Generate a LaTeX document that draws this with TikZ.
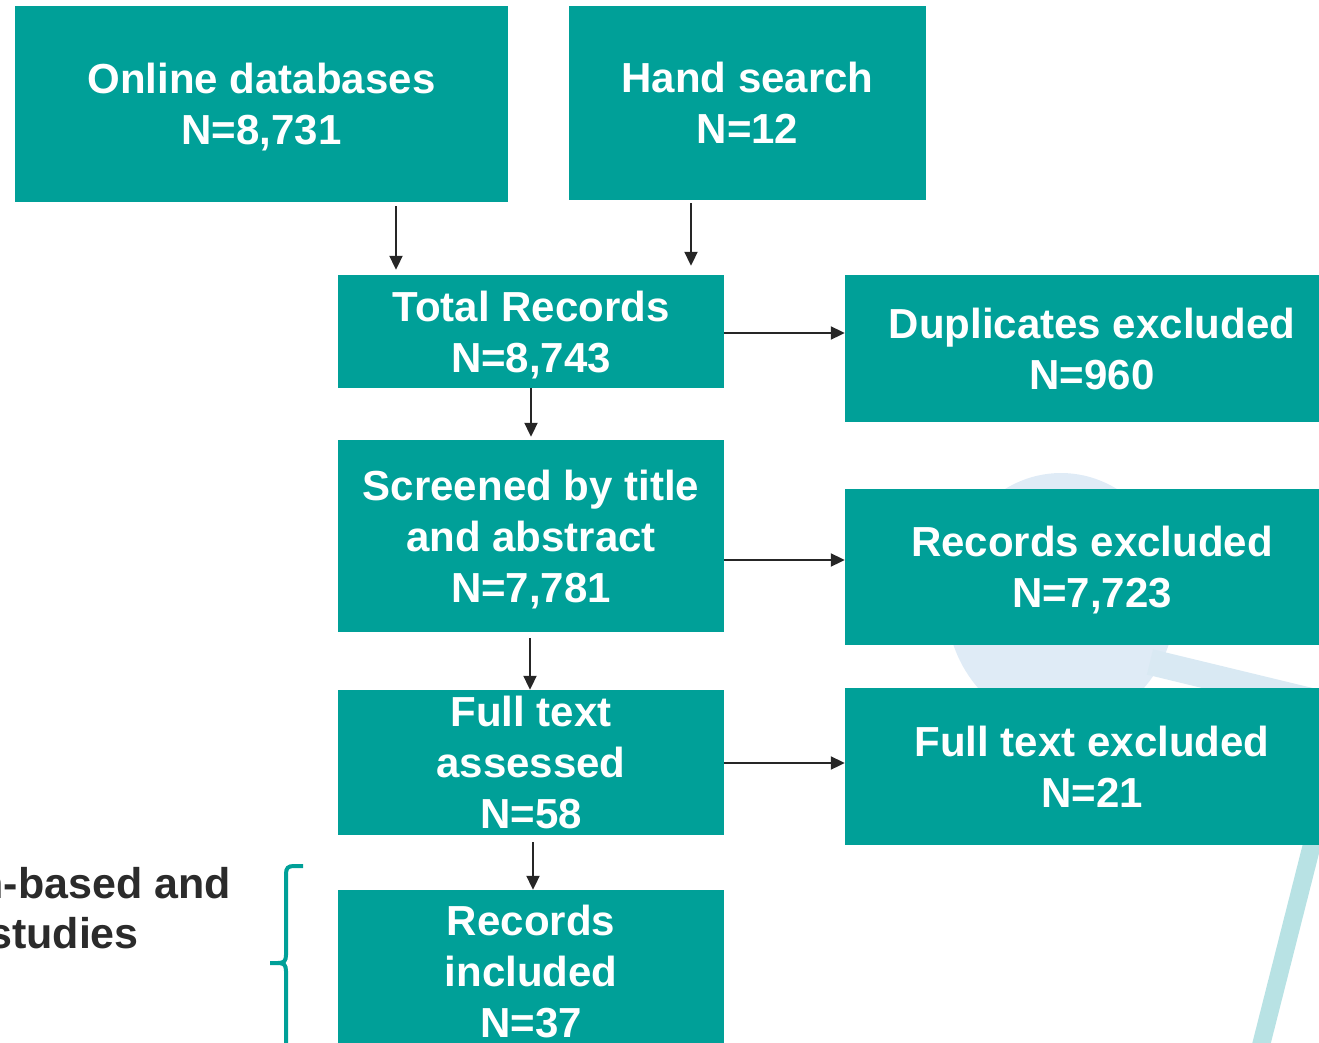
\documentclass[tikz,border=0pt]{standalone}
\usepackage{fontspec}
\setmainfont{Liberation Sans}
\usetikzlibrary{arrows.meta}
\definecolor{teal1}{HTML}{00A098}
\definecolor{arrowgray}{HTML}{262626}
\definecolor{labelgray}{HTML}{2B2B2B}
\definecolor{lens}{HTML}{DFEBF6}
\definecolor{handle}{HTML}{D9E9F3}
\definecolor{stick}{HTML}{B8E2E4}
\tikzset{
  box/.style={rectangle, fill=teal1, text=white, inner sep=0pt, align=center,
    text depth=-2pt, font=\fontsize{42}{51}\selectfont\bfseries},
  arr/.style={draw=arrowgray, line width=2pt, -{Triangle[length=14pt,width=13pt]}},
  bracepath/.style={draw=teal1, line width=4pt},
  sidelabel/.style={text=labelgray, inner sep=0pt, anchor=base east,
    font=\fontsize{43}{51}\selectfont\bfseries},
}
\begin{document}
\begin{tikzpicture}[x=1pt, y=-1pt]
\useasboundingbox (0,0) rectangle (1319,1043);
\clip (0,0) rectangle (1319,1043);

% faint background emblem
\fill[lens] (1061,600) ellipse [x radius=115, y radius=127];
\draw[handle, line width=26pt] (1150,662) -- (1340,708);
\draw[stick, line width=18pt] (1322,805) -- (1256,1065);

% flow boxes
\node[box, minimum width=493pt, minimum height=196pt] (db)  at (261.5,104) {Online databases\\N=8,731};
\node[box, minimum width=357pt, minimum height=194pt] (hand) at (747.5,103) {Hand search\\N=12};
\node[box, minimum width=386pt, minimum height=113pt] (tot) at (531,331.5) {Total Records\\N=8,743};
\node[box, minimum width=494pt, minimum height=147pt] (dup) at (1092,348.5) {Duplicates excluded\\N=960};
\node[box, minimum width=386pt, minimum height=192pt] (scr) at (531,536) {Screened by title\\and abstract\\N=7,781};
\node[box, minimum width=494pt, minimum height=156pt] (rex) at (1092,567) {Records excluded\\N=7,723};
\node[box, minimum width=386pt, minimum height=145pt] (fta) at (531,762.5) {Full text\\assessed\\N=58};
\node[box, minimum width=494pt, minimum height=157pt] (fex) at (1092,766.5) {Full text excluded\\N=21};
\node[box, minimum width=386pt, minimum height=162pt] (inc) at (531,971) {Records\\included\\N=37};

% arrow columns and rows
\coordinate (c1) at (396,0);
\coordinate (c2) at (691,0);
\coordinate (c3) at (531,0);
\coordinate (c4) at (530,0);
\coordinate (c5) at (533,0);
\coordinate (r1) at (0,333);
\coordinate (r2) at (0,560);
\coordinate (r3) at (0,763);

\draw[arr, shorten <=4pt, shorten >=5pt] (db.south -| c1) -- (tot.north -| c1);
\draw[arr, shorten <=3pt, shorten >=9pt] (hand.south -| c2) -- (tot.north -| c2);
\draw[arr, shorten >=3pt] (tot.south -| c3) -- (scr.north -| c3);
\draw[arr, shorten <=6pt] (scr.south -| c4) -- (fta.north -| c4);
\draw[arr, shorten <=7pt] (fta.south -| c5) -- (inc.north -| c5);
\draw[arr] (tot.east |- r1) -- (dup.west |- r1);
\draw[arr] (scr.east |- r2) -- (rex.west |- r2);
\draw[arr] (fta.east |- r3) -- (fex.west |- r3);

% brace and its label
\draw[bracepath] (303,866) -- (294,866) .. controls (288,866) and (286,868) .. (286,874)
  -- (286,955) .. controls (286,961) and (284,963) .. (278,963) -- (270,963);
\draw[bracepath] (278,963) .. controls (284,963) and (286,965) .. (286,971) -- (286,1050);
\node[sidelabel] (lab1) at (231,898) {n-based and};
\node[sidelabel] (lab2) at (139,948) {studies};
\end{tikzpicture}
\end{document}
